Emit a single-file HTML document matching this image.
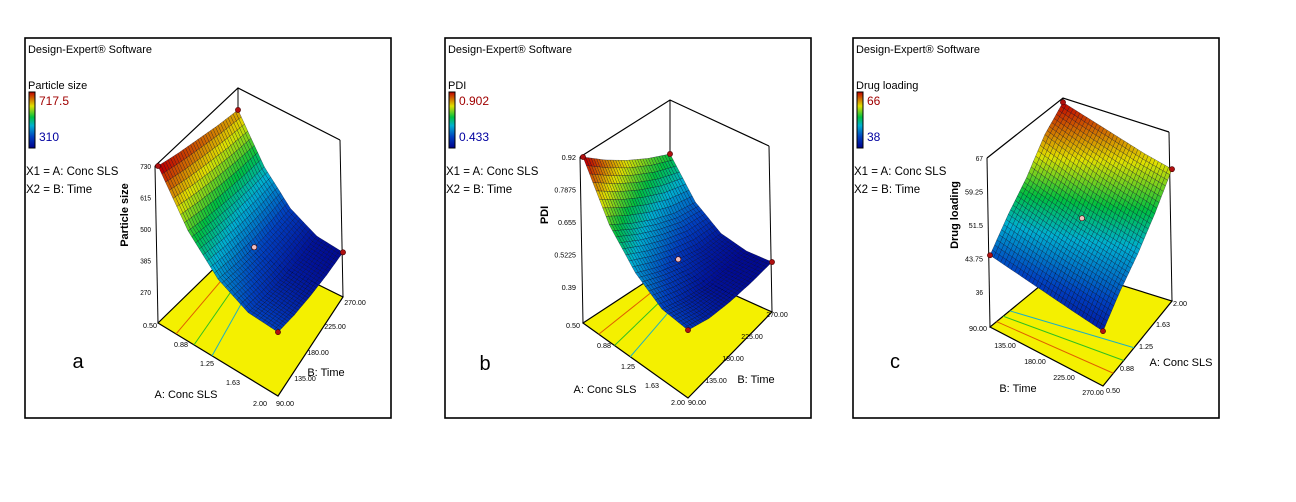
<!DOCTYPE html>
<html><head><meta charset="utf-8">
<style>
html,body{margin:0;padding:0;background:#fff;}
svg text{font-family:"Liberation Sans",sans-serif;}
</style></head>
<body>
<svg id="root" width="1296" height="497" viewBox="0 0 1296 497" xmlns="http://www.w3.org/2000/svg">
<defs>
<linearGradient id="cbar" x1="0" y1="1" x2="0" y2="0">
<stop offset="0" stop-color="#00008c"/><stop offset="0.2" stop-color="#0040c0"/>
<stop offset="0.4" stop-color="#00b0d0"/><stop offset="0.55" stop-color="#00c040"/>
<stop offset="0.75" stop-color="#e0e000"/><stop offset="1" stop-color="#c00000"/></linearGradient>
</defs>
</svg>
<script>
// ---- data ----
const aLevels = [0.50, 0.88, 1.25, 1.63, 2.00];
const bLevels = [90, 135, 180, 225, 270];
// rows: A level, cols: B level
const particleSize = [
 [730, 705, 685, 665, 650],
 [560, 535, 515, 500, 490],
 [450, 425, 405, 392, 385],
 [395, 370, 350, 338, 332],
 [390, 362, 342, 328, 320]];
const pdi = [
 [0.92, 0.85, 0.79, 0.74, 0.70],
 [0.72, 0.66, 0.61, 0.57, 0.55],
 [0.60, 0.55, 0.51, 0.48, 0.47],
 [0.53, 0.49, 0.46, 0.45, 0.445],
 [0.52, 0.48, 0.46, 0.45, 0.447]];
const drugLoading = [
 [40.6, 41.5, 42.5, 43.5, 44.5],
 [45.0, 46.3, 47.5, 49.0, 50.5],
 [48.5, 50.0, 51.5, 53.5, 55.5],
 [53.0, 55.0, 57.0, 59.5, 62.0],
 [58.4, 60.0, 62.0, 64.0, 66.0]];
const zTicksA = ["270", "385", "500", "615", "730"];
const zTicksB = ["0.39", "0.5225", "0.655", "0.7875", "0.92"];
const zTicksC = ["36", "43.75", "51.5", "59.25", "67"];
const aTickLabels = ["0.50", "0.88", "1.25", "1.63", "2.00"];
const bTickLabels = ["90.00", "135.00", "180.00", "225.00", "270.00"];

const NS = "http://www.w3.org/2000/svg";
const root = document.getElementById('root');
function mk(tag, attrs, parent, text){
  const e = document.createElementNS(NS, tag);
  for (const k in attrs) e.setAttribute(k, attrs[k]);
  if (text !== undefined) e.textContent = text;
  (parent||root).appendChild(e); return e;
}
function cmap(t){
  t=Math.max(0,Math.min(1,t));
  const st=[[0,[0,0,140]],[0.2,[0,64,192]],[0.4,[0,176,208]],[0.55,[0,192,64]],[0.75,[224,224,0]],[1,[192,0,0]]];
  for(let i=1;i<st.length;i++){ if(t<=st[i][0]){const a=st[i-1],b=st[i];const f=(t-a[0])/(b[0]-a[0]);
    return 'rgb('+a[1].map((v,j)=>Math.round(v+(b[1][j]-v)*f)).join(',')+')';}}
  return 'rgb(192,0,0)';
}

const panels = [
 {id:'a', x:25, title:'Particle size', data:particleSize, hi:'717.5', lo:'310', cmin:310, cmax:717.5,
  P00:[158,323], P10:[278,396], P11:[343,297], P01:[238,245], zmin:270, zmax:730, zt:zTicksA, off:31,
  zAxisCorner:'P00', ztitle:[128,215], letter:[78,368],
  aLbl:[[150,328],[181,347],[207,366],[233,385],[260,406]], bLbl:[[285,406],[305,381],[318,355],[335,329],[355,305]],
  aTitle:[186,398], bTitle:[326,376], back:'P01'},
 {id:'b', x:445, title:'PDI', data:pdi, hi:'0.902', lo:'0.433', cmin:0.433, cmax:0.902,
  P00:[583,323], P10:[688,398], P11:[772,312], P01:[670,266], zmin:0.39, zmax:0.92, zt:zTicksB, off:36,
  zAxisCorner:'P00', ztitle:[548,215], letter:[485,370],
  aLbl:[[573,328],[604,348],[628,369],[652,388],[678,405]], bLbl:[[697,405],[716,383],[733,361],[752,339],[777,317]],
  aTitle:[605,393], bTitle:[756,383], back:'P01'},
 {id:'c', x:853, title:'Drug loading', data:drugLoading, hi:'66', lo:'38', cmin:38, cmax:66,
  P00:[1103,386], P10:[1172,301], P11:[1063,267], P01:[990,327], zmin:36, zmax:67, zt:zTicksC, off:35,
  zAxisCorner:'P01', ztitle:[958,215], letter:[895,368],
  aLbl:[[1113,393],[1127,371],[1146,349],[1163,327],[1180,306]], bLbl:[[978,331],[1005,348],[1035,364],[1064,380],[1093,395]],
  aTitle:[1181,366], bTitle:[1018,392], back:'P11'}
];

panels.forEach(p=>{
  const g = mk('g',{});
  
  
  const fr = mk('rect',{x:p.x,y:38,width:366,height:380,fill:'#fff',stroke:'#000','stroke-width':1.6},g);
  
  
  const t1 = mk('text',{x:p.x+3,y:53,'font-size':11,textLength:124,lengthAdjust:'spacingAndGlyphs'},g,'Design-Expert® Software');
  
  
  const t2 = mk('text',{x:p.x+3,y:89,'font-size':11},g,p.title);
  
  
  const cb = mk('rect',{x:p.x+4,y:92,width:6,height:56,fill:'url(#cbar)',stroke:'#000','stroke-width':1},g);
  
  
  const th = mk('text',{x:p.x+14,y:105,'font-size':12,fill:'#a00000'},g,p.hi);
  
  
  const tl = mk('text',{x:p.x+14,y:141,'font-size':12,fill:'#0000a0'},g,p.lo);
  
  
  const x1 = mk('text',{x:p.x+1,y:175,'font-size':11.5},g,'X1 = A: Conc SLS');
  
  
  const x2 = mk('text',{x:p.x+1,y:193,'font-size':11.5},g,'X2 = B: Time');
  
  
  const lt = mk('text',{x:p.letter[0],y:p.letter[1],'font-size':20,'text-anchor':'middle'},g,p.id);
  
  

  const s = 126/(p.zmax-p.zmin)* (p.id==='b'?130/126:(p.id==='c'?134/126:1));
  function floor(u,v){
    const x=(1-u)*(1-v)*p.P00[0]+u*(1-v)*p.P10[0]+u*v*p.P11[0]+(1-u)*v*p.P01[0];
    const y=(1-u)*(1-v)*p.P00[1]+u*(1-v)*p.P10[1]+u*v*p.P11[1]+(1-u)*v*p.P01[1];
    return [x,y];
  }
  function proj(u,v,z){ const f=floor(u,v); return [f[0], f[1]-p.off-(z-p.zmin)*s]; }
  const topOff = p.off+(p.zmax-p.zmin)*s;

  const fl = mk('polygon',{points:[p.P00,p.P10,p.P11,p.P01].map(q=>q.join(',')).join(' '),fill:'#f4f000',stroke:'#000','stroke-width':1.2},g);
  
  
  [0.15,0.3,0.45].forEach((u,i)=>{
    const a=floor(u,0), b=floor(u*0.6,1);
    const cl = mk('line',{x1:a[0],y1:a[1],x2:b[0],y2:b[1],stroke:['#e06000','#30c020','#20b0c0'][i],'stroke-width':1},g);
    
    
  });

  ['P00','P01','P11','P10'].forEach(k=>{
    if(k===(p.id==='c'?'P00':'P10')) return;
    const q=p[k];
    const vl = mk('line',{x1:q[0],y1:q[1],x2:q[0]-(k===p.back?0:3),y2:q[1]-topOff,stroke:'#000','stroke-width':1},g);
    
    
  });
  const tops = (p.id==='c'?['P10','P11','P01']:['P00','P01','P11']).map(k=>[p[k][0]-(k===p.back?0:3),p[k][1]-topOff]);
  const tp = mk('polyline',{points:tops.map(q=>q.join(',')).join(' '),fill:'none',stroke:'#000','stroke-width':1.2},g);
  
  

  const zc=p[p.zAxisCorner];
  p.zt.forEach((lab,i)=>{
    const z=p.zmin+(p.zmax-p.zmin)*i/(p.zt.length-1);
    const y=zc[1]-p.off-(z-p.zmin)*s;
    const tt = mk('text',{x:zc[0]-7,y:y+3,'font-size':7.5,'text-anchor':'end',textLength:lab.length*3.6,lengthAdjust:'spacingAndGlyphs'},g,lab);
    
    
  });
  const zt = mk('text',{x:p.ztitle[0],y:p.ztitle[1],'font-size':11,'font-weight':'bold','text-anchor':'middle',transform:'rotate(-90 '+p.ztitle[0]+' '+p.ztitle[1]+')'},g,p.title);
  
  
  p.aLbl.forEach((q,i)=>{
    const e=mk('text',{x:q[0],y:q[1],'font-size':7.5,'text-anchor':'middle',textLength:14,lengthAdjust:'spacingAndGlyphs'},g,aTickLabels[i]);
    
    
  });
  p.bLbl.forEach((q,i)=>{
    const e=mk('text',{x:q[0],y:q[1],'font-size':7.5,'text-anchor':'middle',textLength:bTickLabels[i].length*3.6,lengthAdjust:'spacingAndGlyphs'},g,bTickLabels[i]);
    
    
  });
  const at = mk('text',{x:p.aTitle[0],y:p.aTitle[1],'font-size':11,'text-anchor':'middle'},g,'A: Conc SLS');
  
  
  const bt = mk('text',{x:p.bTitle[0],y:p.bTitle[1],'font-size':11,'text-anchor':'middle'},g,'B: Time');
  
  

  const n=aLevels.length-1, m=bLevels.length-1, SUB=8;
  const quads=[];
  for(let i=0;i<n;i++)for(let j=0;j<m;j++){
    const z00=p.data[i][j],z10=p.data[i+1][j],z11=p.data[i+1][j+1],z01=p.data[i][j+1];
    for(let a=0;a<SUB;a++)for(let b=0;b<SUB;b++){
      const pts=[], zs=[];
      [[a,b],[a+1,b],[a+1,b+1],[a,b+1]].forEach(([aa,bb])=>{
        const fu=aa/SUB,fv=bb/SUB;
        const z=(1-fu)*(1-fv)*z00+fu*(1-fv)*z10+fu*fv*z11+(1-fu)*fv*z01;
        const u=(i+fu)/n,v=(j+fv)/m;
        pts.push(proj(u,v,z)); zs.push(z);
      });
      const fc=floor((i+(a+0.5)/SUB)/n,(j+(b+0.5)/SUB)/m);
      quads.push({pts,z:(zs[0]+zs[1]+zs[2]+zs[3])/4,depth:fc[1]});
    }
  }
  quads.sort((q1,q2)=>q1.depth-q2.depth);
  const sg=mk('g',{},g);
  
  
  quads.forEach(q=>{
    const e=mk('polygon',{points:q.pts.map(c=>c[0].toFixed(1)+','+c[1].toFixed(1)).join(' '),fill:cmap((q.z-p.cmin)/(p.cmax-p.cmin)),stroke:'rgba(0,0,30,0.6)','stroke-width':0.45},sg);
    
    
  });
  [[0,0],[n,0],[n,m],[0,m]].forEach(([i,j])=>{
    const c=proj(i/n,j/m,p.data[i][j]);
    const e=mk('circle',{cx:c[0],cy:c[1],r:2.6,fill:'#b01010',stroke:'#400','stroke-width':0.6},g);
    
    
  });
  const c=proj(0.5,0.5,p.data[2][2]);
  const e=mk('circle',{cx:c[0],cy:c[1],r:2.6,fill:'#f0c0c0',stroke:'#400','stroke-width':0.6},g);
  
  
});
</script>
</body></html>
